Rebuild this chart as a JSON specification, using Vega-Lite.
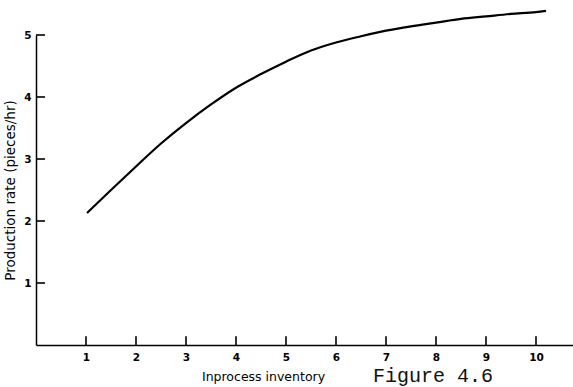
{
  "$schema": "https://vega.github.io/schema/vega-lite/v6.json",
  "autosize": "none",
  "width": 537,
  "height": 310,
  "padding": {"left": 36, "top": 35, "right": 0, "bottom": 42},
  "background": "white",
  "config": {"view": {"stroke": null}, "font": "DejaVu Sans"},
  "title": {"text": "Figure 4.6", "orient": "bottom", "anchor": "end", "font": "Liberation Mono", "fontSize": 20, "fontWeight": "normal", "color": "#111", "dx": -80, "offset": -17},
  "layer": [
    {
      "data": {"values": [
        {"x": 1.02, "y": 2.13}, {"x": 1.5, "y": 2.5}, {"x": 2, "y": 2.88}, {"x": 2.5, "y": 3.25},
        {"x": 3, "y": 3.58}, {"x": 3.5, "y": 3.88}, {"x": 4, "y": 4.15}, {"x": 4.5, "y": 4.37},
        {"x": 5, "y": 4.57}, {"x": 5.5, "y": 4.75}, {"x": 6, "y": 4.88}, {"x": 6.5, "y": 4.98},
        {"x": 7, "y": 5.07}, {"x": 7.5, "y": 5.14}, {"x": 8, "y": 5.2}, {"x": 8.5, "y": 5.26},
        {"x": 9, "y": 5.3}, {"x": 9.5, "y": 5.34}, {"x": 10, "y": 5.37}, {"x": 10.2, "y": 5.39}
      ]},
      "mark": {"type": "line", "color": "black", "strokeWidth": 2.2, "interpolate": "monotone", "clip": false},
      "encoding": {
        "x": {"field": "x", "type": "quantitative",
          "scale": {"domain": [0, 10.74], "nice": false, "zero": false},
          "axis": {"title": "Inprocess inventory", "values": [1,2,3,4,5,6,7,8,9,10], "format": "d", "grid": false, "ticks": false,
            "domainColor": "black", "domainWidth": 1.5,
            "labelPadding": 7, "labelFontSize": 10.5, "labelColor": "black", "labelFontWeight": "bold",
            "titleFontSize": 12.5, "titleFontWeight": "normal", "titleColor": "black", "titleX": 227, "titlePadding": 8}},
        "y": {"field": "y", "type": "quantitative",
          "scale": {"domain": [0, 5], "nice": false},
          "axis": {"title": "Production rate (pieces/hr)", "values": [1,2,3,4,5], "format": "d", "grid": false, "ticks": false,
            "domainColor": "black", "domainWidth": 1.5,
            "labelPadding": 5, "labelFontSize": 10.5, "labelColor": "black", "labelFontWeight": "bold",
            "titleFontSize": 13.5, "titleFontWeight": "normal", "titleColor": "black", "titlePadding": 6}}
      }
    },
    {
      "data": {"values": [{"t": 1}, {"t": 2}, {"t": 3}, {"t": 4}, {"t": 5}, {"t": 6}, {"t": 7}, {"t": 8}, {"t": 9}, {"t": 10}]},
      "mark": {"type": "rule", "color": "black", "strokeWidth": 1.6},
      "encoding": {
        "x": {"field": "t", "type": "quantitative"},
        "y": {"datum": 0},
        "y2": {"datum": 0.14}
      }
    },
    {
      "data": {"values": [{"t": 1}, {"t": 2}, {"t": 3}, {"t": 4}, {"t": 5}]},
      "mark": {"type": "rule", "color": "black", "strokeWidth": 1.6},
      "encoding": {
        "y": {"field": "t", "type": "quantitative"},
        "x": {"datum": 0},
        "x2": {"datum": 0.18}
      }
    }
  ]
}
